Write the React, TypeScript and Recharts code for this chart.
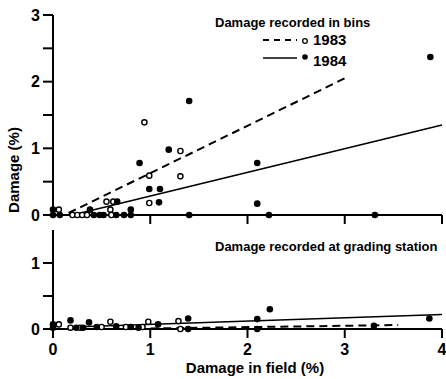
import { ScatterChart, Scatter, XAxis, YAxis, Legend, Label } from 'recharts';

// damage recorded in bins (top panel)
const binsX1983 = [0.06, 0.2, 0.25, 0.3, 0.35, 0.55, 0.62, 0.59, 0.6, 0.94, 0.99, 0.99, 1.31, 1.31];
const binsY1983 = [0.08, 0, 0, 0, 0, 0.2, 0.2, 0.08, 0, 1.39, 0.59, 0.18, 0.96, 0.58];
const binsX1984 = [0, 0, 0.07, 0.38, 0.42, 0.48, 0.52, 0.66, 0.65, 0.73, 0.8, 0.8, 0.89, 0.99, 1.1, 1.09, 1.19, 1.4, 1.4, 2.1, 2.1, 2.22, 3.31, 3.88];
const binsY1984 = [0.08, 0, 0, 0.08, 0, 0, 0, 0.2, 0, 0, 0.08, 0, 0.78, 0.39, 0.39, 0.19, 0.98, 1.71, 0, 0.78, 0.17, 0, 0, 2.37];
const binsFitX1983 = [0.16, 3.0];
const binsFitY1983 = [0.03, 2.05];
const binsFitX1984 = [0.2, 4.0];
const binsFitY1984 = [0, 1.35];

// damage recorded at grading station (bottom panel)
const gradeX1983 = [0.06, 0.18, 0.28, 0.5, 0.59, 0.75, 0.92, 0.98, 1.29, 1.31];
const gradeY1983 = [0.07, 0.02, 0.02, 0.03, 0.11, 0.03, 0.03, 0.11, 0.12, 0];
const gradeX1984 = [0, 0, 0.18, 0.24, 0.31, 0.37, 0.45, 0.65, 0.8, 0.88, 1.08, 1.39, 1.39, 2.1, 2.1, 2.23, 3.3, 3.87];
const gradeY1984 = [0.07, 0.02, 0.13, 0.02, 0.02, 0.1, 0.03, 0.04, 0.03, 0.02, 0.07, 0.16, 0, 0.15, 0, 0.3, 0.05, 0.16];
const gradeFitX1983 = [0.6, 3.55];
const gradeFitY1983 = [0, 0.06];
const gradeFitX1984 = [0.2, 4.0];
const gradeFitY1984 = [0.03, 0.22];

const xTicksTop = [1, 2, 3, 4];
const xTicksBottom = [0, 1, 2, 3, 4];
const yTicksTop = [0, 0.5, 1, 1.5, 2, 2.5, 3];
const yTicksBottom = [0, 0.5, 1];

const pts = (xs: number[], ys: number[]) => xs.map((x, i) => ({ x, y: ys[i] }));

const font = '"Liberation Sans", Arial, Helvetica, sans-serif';
const axisStyle = { stroke: '#000', strokeWidth: 2 };
const tickStyle = { fill: '#000', fontSize: 16, fontWeight: 700, fontFamily: font };
const intOnly = (v: number) => (Number.isInteger(v) ? String(v) : '');

const OpenDot = (p: any) => <circle cx={p.cx} cy={p.cy} r={2.6} fill="#fff" stroke="#000" strokeWidth={1.4} />;
const FilledDot = (p: any) => <circle cx={p.cx} cy={p.cy} r={3.3} fill="#000" />;
const NoDot = () => <g />;

const BinsLegend = () => (
  <svg width={180} height={62} style={{ display: 'block' }}>
    <text x={10} y={17} fontSize={13} fontWeight={700} fontFamily={font}>Damage recorded in bins</text>
    <line x1={58} y1={30} x2={92} y2={30} stroke="#000" strokeWidth={1.8} strokeDasharray="6 5" />
    <circle cx={100} cy={31} r={2.3} fill="#fff" stroke="#000" strokeWidth={1.3} />
    <text x={108} y={35} fontSize={15} fontWeight={700} fontFamily={font}>1983</text>
    <line x1={58} y1={48} x2={92} y2={48} stroke="#000" strokeWidth={1.6} />
    <circle cx={100} cy={47} r={2.8} fill="#000" />
    <text x={108} y={56} fontSize={15} fontWeight={700} fontFamily={font}>1984</text>
  </svg>
);

const GradeTitle = () => (
  <svg width={240} height={30} style={{ display: 'block' }}>
    <text x={10} y={18} fontSize={13} fontWeight={700} fontFamily={font}>Damage recorded at grading station</text>
  </svg>
);

export default function App() {
  return (
    <div style={{ position: 'absolute', left: 0, top: 0, width: 446, height: 379, background: '#fff' }}>
      <ScatterChart width={446} height={228} margin={{ top: 15, right: 4, bottom: 0, left: 0 }}>
        <XAxis type="number" dataKey="x" domain={[0, 4]} ticks={xTicksTop} tickFormatter={() => ''}
          height={13} tickSize={9} axisLine={axisStyle} tickLine={axisStyle} />
        <YAxis type="number" dataKey="y" domain={[0, 3]} ticks={yTicksTop} tickFormatter={intOnly}
          width={53} tickSize={10} tickMargin={3} axisLine={axisStyle} tickLine={axisStyle} tick={tickStyle}>
          <Label content={() => (
            <text x={19} y={170} transform="rotate(-90 19 170)" textAnchor="middle" fontSize={15}
              fontWeight={700} fontFamily={font} fill="#000">Damage (%)</text>
          )} />
        </YAxis>
        <Scatter data={pts(binsFitX1983, binsFitY1983)} fill="#000" shape={NoDot} line={{ strokeWidth: 2, strokeDasharray: '8 5' }} isAnimationActive={false} />
        <Scatter data={pts(binsFitX1984, binsFitY1984)} fill="#000" shape={NoDot} line={{ strokeWidth: 1.7 }} isAnimationActive={false} />
        <Scatter data={pts(binsX1983, binsY1983)} fill="#000" shape={OpenDot} isAnimationActive={false} />
        <Scatter data={pts(binsX1984, binsY1984)} fill="#000" shape={FilledDot} isAnimationActive={false} />
        <Legend verticalAlign="middle" content={BinsLegend} wrapperStyle={{ left: 205, top: 10, width: 180, height: 62 }} />
      </ScatterChart>
      <ScatterChart width={446} height={151} margin={{ top: 2, right: 4, bottom: 0, left: 0 }}>
        <XAxis type="number" dataKey="x" domain={[0, 4]} ticks={xTicksBottom} height={50} tickSize={9}
          tickMargin={6} axisLine={axisStyle} tickLine={axisStyle} tick={tickStyle}>
          <Label content={() => (
            <text x={255} y={145} textAnchor="middle" fontSize={15} fontWeight={700} fontFamily={font}
              fill="#000">Damage in field (%)</text>
          )} />
        </XAxis>
        <YAxis type="number" dataKey="y" domain={[0, 1.5]} ticks={yTicksBottom} tickFormatter={intOnly}
          width={53} tickSize={10} tickMargin={3} axisLine={axisStyle} tickLine={axisStyle} tick={tickStyle} />
        <Scatter data={pts(gradeFitX1983, gradeFitY1983)} fill="#000" shape={NoDot} line={{ strokeWidth: 2, strokeDasharray: '8 5' }} isAnimationActive={false} />
        <Scatter data={pts(gradeFitX1984, gradeFitY1984)} fill="#000" shape={NoDot} line={{ strokeWidth: 1.7 }} isAnimationActive={false} />
        <Scatter data={pts(gradeX1983, gradeY1983)} fill="#000" shape={OpenDot} isAnimationActive={false} />
        <Scatter data={pts(gradeX1984, gradeY1984)} fill="#000" shape={FilledDot} isAnimationActive={false} />
        <Legend verticalAlign="middle" content={GradeTitle} wrapperStyle={{ left: 205, top: 5, width: 240, height: 30 }} />
      </ScatterChart>
    </div>
  );
}
